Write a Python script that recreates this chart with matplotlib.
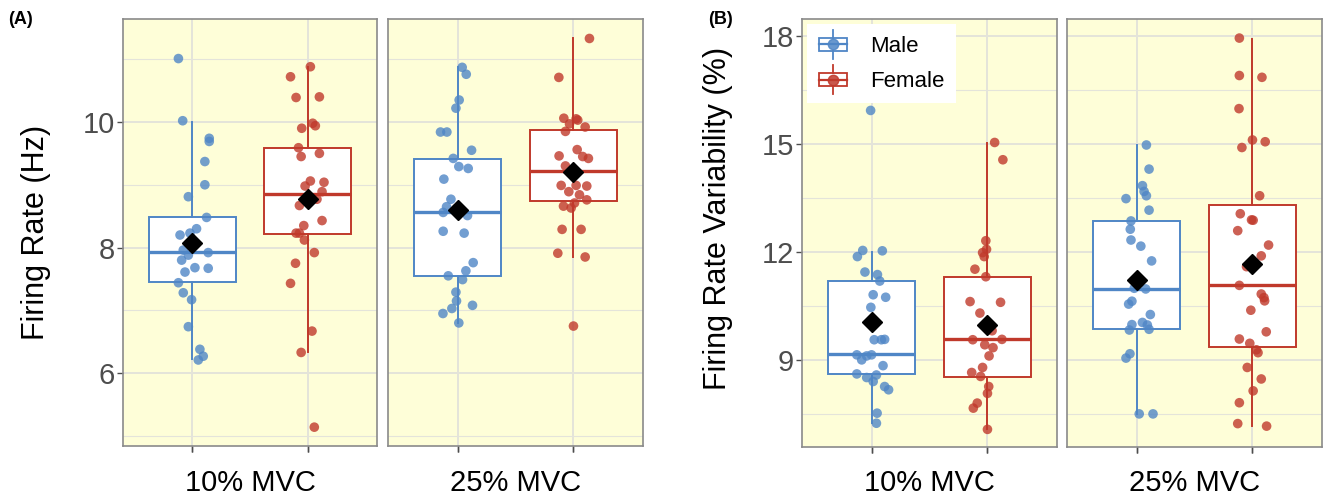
import matplotlib
matplotlib.use("Agg")
import matplotlib.pyplot as plt
from matplotlib.ticker import MultipleLocator
from matplotlib.legend_handler import HandlerBase
from matplotlib.patches import Rectangle
from matplotlib.lines import Line2D

plt.rcParams['font.family'] = ['Liberation Sans', 'DejaVu Sans']

# ---------------- data ----------------
conditions = ["10% MVC", "25% MVC"]
sexes = ["Male", "Female"]

# (A) firing rate, Hz
fr_male_10 = [11.01, 10.02, 9.74, 9.69, 9.37, 9.00, 8.81, 8.48, 8.20, 8.23, 8.30, 7.96, 7.88,
              7.92, 7.80, 7.61, 7.68, 7.67, 7.44, 7.28, 7.17, 6.74, 6.38, 6.27, 6.21]
fr_male_10_jit = [-0.12, -0.083, 0.147, 0.147, 0.109, 0.109, -0.034, 0.124, -0.106, -0.02, 0.037,
                  -0.078, -0.034, 0.138, -0.092, -0.063, 0.023, 0.138, -0.12, -0.078, -0.006,
                  -0.034, 0.066, 0.095, 0.052]
fr_female_10 = [10.88, 10.72, 10.39, 10.40, 9.90, 9.98, 9.94, 9.59, 9.45, 9.50, 9.06, 8.98, 9.04,
                8.89, 8.77, 8.67, 8.35, 8.43, 8.23, 8.23, 8.12, 7.92, 7.75, 7.43, 6.67, 6.33, 5.14]
fr_female_10_jit = [0.023, -0.149, -0.101, 0.101, -0.052, 0.043, 0.066, -0.08, -0.057, 0.101, 0.023,
                    -0.023, 0.141, 0.124, 0.08, -0.072, -0.034, 0.124, -0.101, -0.072, -0.029,
                    0.057, -0.106, -0.149, 0.037, -0.057, 0.057]
fr_male_25 = [10.87, 10.76, 10.35, 10.22, 9.84, 9.84, 9.55, 9.42, 9.29, 9.26, 9.09, 8.77, 8.65,
              8.56, 8.62, 8.51, 8.26, 8.23, 7.76, 7.63, 7.55, 7.49, 7.29, 7.15, 7.08, 7.03, 6.95, 6.80]
fr_male_25_jit = [0.04, 0.075, 0.014, -0.014, -0.147, -0.092, 0.121, -0.037, 0.011, 0.092, -0.118,
                  -0.057, -0.095, -0.124, -0.009, 0.086, -0.124, 0.057, 0.135, 0.072, -0.08, 0.043,
                  -0.014, -0.009, 0.129, -0.049, -0.126, 0.011]
fr_female_25 = [11.33, 10.71, 10.06, 10.05, 9.97, 10.03, 9.92, 9.85, 9.56, 9.46, 9.45, 9.42, 9.30,
                8.99, 8.99, 8.98, 8.89, 8.84, 8.76, 8.66, 8.63, 8.71, 8.29, 8.29, 7.91, 7.85, 6.75]
fr_female_25_jit = [0.138, -0.126, -0.083, 0.023, -0.034, 0.037, 0.101, -0.069, 0.032, -0.124, 0.08,
                    0.129, -0.069, -0.106, 0.023, 0.115, -0.04, 0.052, 0.115, -0.086, -0.02, 0.009,
                    -0.098, 0.066, -0.135, 0.101, 0.0]

# box summaries for (A): [male10, female10, male25, female25]
fr_q1 = [7.445, 8.215, 7.55, 8.74]
fr_med = [7.93, 8.86, 8.56, 9.22]
fr_q3 = [8.48, 9.58, 9.41, 9.87]
fr_lo = [6.22, 6.33, 6.80, 7.85]
fr_hi = [10.0, 10.88, 10.88, 11.33]
fr_mean = [8.07, 8.78, 8.60, 9.21]

# (B) firing rate variability, %
frv_male_10 = [15.93, 12.04, 12.03, 11.87, 11.44, 11.37, 11.19, 10.81, 10.74, 10.46, 9.56, 9.56,
               9.57, 9.14, 9.00, 9.11, 9.14, 8.84, 8.61, 8.51, 8.58, 8.40, 8.26, 8.17, 7.52, 7.24]
frv_male_10_jit = [-0.008, -0.076, 0.093, -0.122, -0.057, 0.051, 0.071, 0.014, 0.122, -0.006, 0.023,
                   0.085, 0.113, -0.127, -0.085, -0.042, 0.0, 0.099, -0.127, -0.042, 0.042, 0.014,
                   0.113, 0.147, 0.048, 0.042]
frv_female_10 = [15.04, 14.56, 12.31, 12.07, 11.98, 11.87, 11.52, 11.31, 10.62, 10.60, 10.30, 9.81,
                 9.56, 9.57, 9.42, 9.34, 9.11, 8.65, 8.79, 8.54, 8.26, 8.07, 7.80, 7.66, 7.07]
frv_female_10_jit = [0.062, 0.133, -0.014, -0.008, -0.042, -0.028, -0.108, -0.014, -0.15, 0.113,
                     -0.065, 0.04, -0.127, 0.125, -0.023, 0.048, 0.014, -0.136, -0.042, -0.059,
                     0.011, 0.0, -0.088, -0.122, 0.0]
frv_male_25 = [14.97, 14.30, 13.84, 13.68, 13.56, 13.48, 13.16, 12.86, 12.63, 12.33, 12.16, 11.75,
               10.99, 10.97, 10.63, 10.55, 10.26, 9.98, 10.04, 9.97, 9.85, 9.83, 9.17, 9.05, 7.50, 7.50]
frv_male_25_jit = [0.085, 0.108, 0.051, 0.065, 0.085, -0.091, 0.108, -0.048, -0.054, -0.048, 0.037,
                   0.13, -0.02, 0.079, -0.04, -0.068, 0.119, -0.04, 0.051, 0.093, 0.108, -0.062,
                   -0.057, -0.091, 0.023, 0.142]
frv_female_25 = [17.94, 16.90, 16.85, 15.98, 15.11, 15.06, 14.90, 13.56, 13.06, 12.89, 12.88, 12.59,
                 12.19, 11.89, 11.59, 11.07, 10.83, 10.73, 10.64, 10.38, 9.78, 9.58, 9.46, 9.28,
                 9.20, 8.79, 8.47, 8.14, 7.81, 7.23, 7.16]
frv_female_25_jit = [-0.113, -0.113, 0.082, -0.116, 0.0, 0.11, -0.091, 0.062, -0.105, -0.008, 0.006,
                     -0.127, 0.139, 0.076, -0.051, -0.113, 0.076, 0.099, 0.105, -0.014, 0.119,
                     -0.113, -0.023, 0.034, 0.048, -0.045, 0.076, 0.006, -0.113, -0.127, 0.122]

# box summaries for (B): [male10, female10, male25, female25]
frv_q1 = [8.60, 8.52, 9.86, 9.37]
frv_med = [9.16, 9.57, 10.97, 11.08]
frv_q3 = [11.19, 11.31, 12.86, 13.29]
frv_lo = [7.24, 7.07, 7.50, 7.17]
frv_hi = [11.99, 15.02, 14.97, 17.91]
frv_mean = [10.06, 9.97, 11.22, 11.67]

fr_ticks = [6, 8, 10]
frv_ticks = [9, 12, 15, 18]

# ---------------- style ----------------
BG = "#FEFED8"
GRID = "#E4E4DA"
BORDER = "#8A8A8A"
TICKC = "#4D4D4D"
COLORS = {"Male": "#4F86C6", "Female": "#C0392B"}

W, H = 1325, 500
fig = plt.figure(figsize=(W / 100, H / 100), dpi=100)


def px_axes(x0, x1, y0, y1):
    return fig.add_axes([x0 / W, 1 - y1 / H, (x1 - x0) / W, (y1 - y0) / H])


def draw_facet(ax, groups, stats_idx, summ, ylim, ticks, minor, show_y):
    q1, med, q3, lo, hi, mean = summ
    ax.set_facecolor(BG)
    ax.set_xlim(0.4, 2.6)
    ax.set_ylim(*ylim)
    ax.set_axisbelow(True)
    ax.set_xticks([1, 2])
    ax.set_yticks(ticks)
    ax.yaxis.set_minor_locator(MultipleLocator(minor))
    ax.grid(True, which="major", color=GRID, lw=1.4)
    ax.grid(True, which="minor", axis="y", color=GRID, lw=0.8)
    for pos, (sex, vals, jit), k in zip([1, 2], groups, stats_idx):
        c = COLORS[sex]
        st = dict(q1=q1[k], med=med[k], q3=q3[k], whislo=lo[k], whishi=hi[k])
        ax.bxp([st], positions=[pos], widths=0.75, showfliers=False, showcaps=False,
               patch_artist=True,
               boxprops=dict(facecolor="white", edgecolor=c, lw=1.4),
               whiskerprops=dict(color=c, lw=1.4),
               medianprops=dict(color=c, lw=2.4))
        ax.scatter([pos + j for j in jit], vals, s=48, color=c, alpha=0.8,
                   edgecolors="none", zorder=3)
        ax.plot([pos], [mean[k]], marker="D", color="black", ms=10, zorder=4, ls="none")
    for sp in ax.spines.values():
        sp.set_color(BORDER)
        sp.set_linewidth(1.2)
    ax.tick_params(axis="x", labelbottom=False, length=4, width=1, color=TICKC)
    if show_y:
        ax.tick_params(axis="y", which="major", labelsize=21, labelcolor=TICKC,
                       length=4, width=1, color=TICKC, pad=2)
        ax.tick_params(axis="y", which="minor", length=0)
    else:
        ax.tick_params(axis="y", which="both", left=False, labelleft=False)


fr_summ = (fr_q1, fr_med, fr_q3, fr_lo, fr_hi, fr_mean)
frv_summ = (frv_q1, frv_med, frv_q3, frv_lo, frv_hi, frv_mean)
fr_ylim = (4.84, 11.64)
frv_ylim = (6.58, 18.47)

axA1 = px_axes(123, 377, 19, 446)
axA2 = px_axes(388, 643, 19, 446)
axB1 = px_axes(802, 1057, 19, 447)
axB2 = px_axes(1067, 1322, 19, 447)

draw_facet(axA1, [("Male", fr_male_10, fr_male_10_jit), ("Female", fr_female_10, fr_female_10_jit)],
           [0, 1], fr_summ, fr_ylim, fr_ticks, 1, True)
draw_facet(axA2, [("Male", fr_male_25, fr_male_25_jit), ("Female", fr_female_25, fr_female_25_jit)],
           [2, 3], fr_summ, fr_ylim, fr_ticks, 1, False)
draw_facet(axB1, [("Male", frv_male_10, frv_male_10_jit), ("Female", frv_female_10, frv_female_10_jit)],
           [0, 1], frv_summ, frv_ylim, frv_ticks, 1.5, True)
draw_facet(axB2, [("Male", frv_male_25, frv_male_25_jit), ("Female", frv_female_25, frv_female_25_jit)],
           [2, 3], frv_summ, frv_ylim, frv_ticks, 1.5, False)

# facet labels under each panel
for ax, lab in zip([axA1, axA2, axB1, axB2], conditions * 2):
    bb = ax.get_position()
    fig.text(bb.x0 + bb.width / 2, 1 - 483 / H, lab, ha="center", va="center", fontsize=21)

# axis titles
fig.text(36 / W, 1 - 232 / H, "Firing Rate (Hz)", rotation=90, ha="center", va="center", fontsize=22)
fig.text(718 / W, 1 - 218 / H, "Firing Rate Variability (%)", rotation=90, ha="center",
         va="center", fontsize=22)

# panel tags
fig.text(8 / W, 1 - 20 / H, "(A)", fontsize=13, fontweight="bold", ha="left", va="center")
fig.text(708 / W, 1 - 20 / H, "(B)", fontsize=13, fontweight="bold", ha="left", va="center")


# legend with boxplot-style keys
class BoxKey(HandlerBase):
    def create_artists(self, legend, orig_handle, xdescent, ydescent, width, height, fontsize, trans):
        c = orig_handle.get_color()
        cx = width / 2 - xdescent
        cy = height / 2 - ydescent
        bw, bh = width * 0.95, height * 0.72
        box = Rectangle((cx - bw / 2, cy - bh / 2), bw, bh, facecolor="white", edgecolor=c,
                        lw=1.3, transform=trans)
        w1 = Line2D([cx, cx], [cy + bh / 2, cy + height * 0.8], color=c, lw=1.3, transform=trans)
        w2 = Line2D([cx, cx], [cy - bh / 2, cy - height * 0.8], color=c, lw=1.3, transform=trans)
        md = Line2D([cx - bw / 2, cx + bw / 2], [cy, cy], color=c, lw=1.6, transform=trans)
        dot = Line2D([cx], [cy], marker="o", ms=7.5, color=c, alpha=0.85, ls="none", transform=trans)
        return [box, w1, w2, md, dot]


handles = [Line2D([], [], color=COLORS[s]) for s in sexes]
leg = axB1.legend(handles, sexes, handler_map={Line2D: BoxKey()}, loc="upper left",
                  bbox_to_anchor=(0.02, 0.988), borderaxespad=0, fontsize=16, frameon=True,
                  fancybox=False, handlelength=1.35, handleheight=0.9, handletextpad=1.0,
                  labelspacing=0.6, borderpad=0.5)
leg.get_frame().set_facecolor("white")
leg.get_frame().set_edgecolor("none")
leg.get_frame().set_alpha(1)
leg.set_zorder(10)

fig.savefig("out.png", dpi=100, facecolor="white")
